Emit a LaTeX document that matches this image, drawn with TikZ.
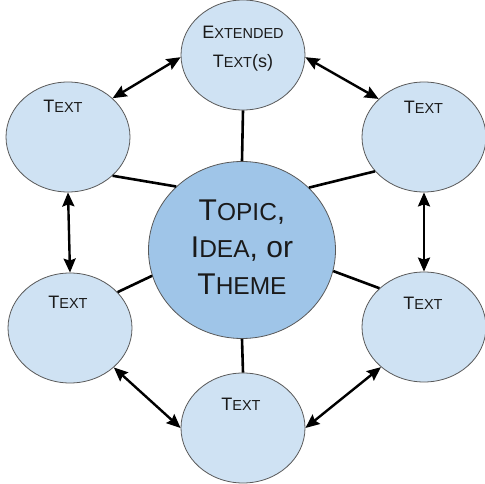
\documentclass[tikz,border=0pt]{standalone}
\usepackage{fontspec}
\setmainfont{Liberation Sans}
\usetikzlibrary{shapes.geometric,arrows.meta}
\definecolor{outerfill}{HTML}{CFE2F3}
\definecolor{centerfill}{HTML}{9FC5E8}
\definecolor{rim}{HTML}{595959}
\definecolor{ink}{HTML}{1A1A1A}
% fake small caps: big initial, smaller capitals
\newcommand{\scBig}[1]{{\fontsize{18}{20}\selectfont #1}}
\newcommand{\scSmall}[1]{{\fontsize{14.5}{16}\selectfont #1}}
\newcommand{\hubBig}[1]{{\fontsize{30}{34}\selectfont #1}}
\newcommand{\hubSmall}[1]{{\fontsize{24.5}{28}\selectfont #1}}
\begin{document}
\begin{tikzpicture}[x=1pt,y=-1pt,
  outer/.style={ellipse,draw=rim,line width=0.8pt,fill=outerfill,
    minimum width=124pt,minimum height=110pt,inner sep=0pt},
  hub/.style={ellipse,draw=rim,line width=0.8pt,fill=centerfill,
    minimum width=187pt,minimum height=177pt,inner sep=0pt},
  label/.style={text=ink,inner sep=0pt,anchor=base},
  spoke/.style={draw=black,line width=2.6pt},
  link/.style={draw=black,line width=2.4pt,
    {Stealth[length=14pt,width=12pt,inset=2pt]}-{Stealth[length=14pt,width=12pt,inset=2pt]}}]
\useasboundingbox (0,0) rectangle (485,484);

% circles
\node[hub] (c) at (242,250) {};
\node[outer] (top) at (243,55) {};
\node[outer] (lt) at (68,137) {};
\node[outer] (rt) at (424,137) {};
\node[outer] (lb) at (70,328) {};
\node[outer] (rb) at (424,327) {};
\node[outer] (bt) at (243,428) {};

% spokes from the hub
\draw[spoke] (c.90) -- (top.-90);
\draw[spoke] (c.136.8) -- (lt.-41.6);
\draw[spoke] (c.43.7) -- (rt.215);
\draw[spoke] (c.196.7) -- (lb.37.8);
\draw[spoke] (c.-13.6) -- (rb.139.7);
\draw[spoke] (c.-90) -- (bt.90);

% two-way links around the ring
\draw[link] (lt.41.5) -- (top.182.7);
\draw[link] (top.-2.7) -- (rt.140.4);
\draw[link] (lt.-90) -- (lb.90);
\draw[link] (rt.-90) -- (rb.90);
\draw[link] (lb.-42.5) -- (bt.180);
\draw[link] (bt.0) -- (rb.223);

% texts
\node[label] (hubA) at (242,220) {\hubBig{T}\hubSmall{OPIC}\hubBig{,}};
\node[label] (hubB) at (242,257) {\hubBig{I}\hubSmall{DEA}\hubBig{, or}};
\node[label] (hubC) at (242,294) {\hubBig{T}\hubSmall{HEME}};
\node[label] (topA) at (243,39) {\scBig{E}\scSmall{XTENDED}};
\node[label] (topB) at (243,68) {\scBig{T}\scSmall{EXT}\scBig{(s)}};
\node[label] (ltA) at (63,113) {\scBig{T}\scSmall{EXT}};
\node[label] (rtA) at (423.5,114) {\scBig{T}\scSmall{EXT}};
\node[label] (lbA) at (68,308) {\scBig{T}\scSmall{EXT}};
\node[label] (rbA) at (423,309) {\scBig{T}\scSmall{EXT}};
\node[label] (btA) at (241,410) {\scBig{T}\scSmall{EXT}};
\end{tikzpicture}
\end{document}
